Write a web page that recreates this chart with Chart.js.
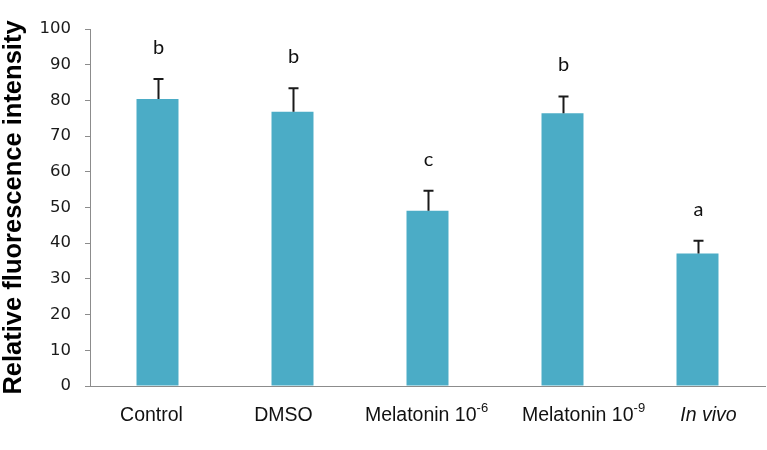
<!DOCTYPE html>
<html>
<head>
<meta charset="utf-8">
<script src="https://cdn.jsdelivr.net/npm/chart.js@4/dist/chart.umd.min.js"></script>
<style>
  html, body { margin: 0; padding: 0; background: #fff; }
  #wrap { width: 767px; height: 450px; }
</style>
</head>
<body>
<div id="wrap"><canvas id="myChart" width="767" height="450"></canvas></div>
<script>
// data
const categories = ['Control', 'DMSO', 'Melatonin 10⁻⁶', 'Melatonin 10⁻⁹', 'In vivo'];
const italicCategories = ['In vivo'];
const meanValues = [80.4, 76.8, 49.1, 76.4, 37.1];
const errorValues = [5.6, 6.6, 5.6, 4.7, 3.6];
const groupLetters = ['b', 'b', 'c', 'b', 'a'];
const yTicks = [0, 10, 20, 30, 40, 50, 60, 70, 80, 90, 100];

// styling
const barColor = '#4bacc6';
const axisColor = '#8c8c8c';
const labelNudge = [-6, -9, -1, 21, 11];  // the category labels sit a bit off-centre in the original
const supMap = { '⁻': '-', '⁰': '0', '¹': '1', '²': '2', '³': '3', '⁴': '4', '⁵': '5', '⁶': '6', '⁷': '7', '⁸': '8', '⁹': '9' };

// split a label into normal / superscript runs
const splitRuns = (txt) => {
  const runs = [];
  for (const ch of txt) {
    const sup = ch in supMap;
    const c = sup ? supMap[ch] : ch;
    if (runs.length && runs[runs.length - 1].sup === sup) {
      runs[runs.length - 1].text += c;
    } else {
      runs.push({ text: c, sup: sup });
    }
  }
  return runs;
};

const extrasPlugin = {
  id: 'extras',
  afterDatasetsDraw(chart) {
    const ctx = chart.ctx;
    const y = chart.scales.y;
    const meta = chart.getDatasetMeta(0);
    ctx.save();
    for (let i = 0; i < meanValues.length; i++) {
      const bar = meta.data[i];
      const x = Math.round(bar.x) + 0.5;
      const yTop = y.getPixelForValue(meanValues[i] + errorValues[i]);
      const yMean = y.getPixelForValue(meanValues[i]);
      // upper error bar only
      ctx.strokeStyle = '#1a1a1a';
      ctx.lineWidth = 2;
      ctx.beginPath();
      ctx.moveTo(x, yMean);
      ctx.lineTo(x, yTop);
      ctx.moveTo(x - 5, yTop);
      ctx.lineTo(x + 5, yTop);
      ctx.stroke();
      // significance letter
      ctx.fillStyle = '#111';
      ctx.font = '20px Lato, "Open Sans", sans-serif';
      ctx.textAlign = 'center';
      ctx.textBaseline = 'alphabetic';
      ctx.fillText(groupLetters[i], x, yTop - 25);
    }
    ctx.restore();
  },
  afterDraw(chart) {
    const ctx = chart.ctx;
    const xs = chart.scales.x;
    const baseY = 420.5;
    ctx.save();
    ctx.fillStyle = '#111';
    ctx.textBaseline = 'alphabetic';
    ctx.textAlign = 'left';
    categories.forEach((cat, i) => {
      const style = italicCategories.includes(cat) ? 'italic ' : '';
      const mainFont = style + '19.5px "Liberation Sans", Arial, sans-serif';
      const supFont = style + '13px "Liberation Sans", Arial, sans-serif';
      const runs = splitRuns(cat);
      let total = 0;
      runs.forEach(r => {
        ctx.font = r.sup ? supFont : mainFont;
        r.w = ctx.measureText(r.text).width;
        total += r.w;
      });
      let x = xs.getPixelForValue(i) + labelNudge[i] - total / 2;
      runs.forEach(r => {
        ctx.font = r.sup ? supFont : mainFont;
        ctx.fillText(r.text, x, r.sup ? baseY - 8.5 : baseY);
        x += r.w;
      });
    });
    ctx.restore();
  }
};

const ctx = document.getElementById('myChart');

const chart = new Chart(ctx, {
  type: 'bar',
  data: {
    labels: categories,
    datasets: [{
      data: meanValues,
      backgroundColor: barColor,
      borderWidth: 0,
      categoryPercentage: 1,
      barPercentage: 0.311
    }]
  },
  options: {
    responsive: false,
    animation: false,
    devicePixelRatio: 1,
    layout: { padding: { top: 29, right: 2, bottom: 0, left: 0 } },
    plugins: {
      legend: { display: false },
      tooltip: { enabled: false }
    },
    scales: {
      x: {
        grid: { display: false },
        border: { display: true, color: axisColor, width: 1 },
        ticks: { display: false },
        afterFit: (scale) => { scale.height = 64; }
      },
      y: {
        min: 0,
        max: 100,
        afterBuildTicks: (scale) => { scale.ticks = yTicks.map(v => ({ value: v })); },
        grid: { drawOnChartArea: false, drawTicks: true, tickLength: 5, color: axisColor },
        border: { display: true, color: axisColor, width: 1 },
        ticks: {
          padding: 14,
          color: '#1a1a1a',
          font: { family: '"DejaVu Sans", sans-serif', size: 16.5 }
        },
        title: {
          display: true,
          text: 'Relative fluorescence intensity',
          color: '#000',
          padding: { top: 1, bottom: 0 },
          font: { family: '"Liberation Sans", Arial, sans-serif', size: 25.5, weight: 'bold', lineHeight: 1 }
        },
        afterFit: (scale) => { scale.width = 90; }
      }
    }
  },
  plugins: [extrasPlugin]
});
</script>
</body>
</html>
